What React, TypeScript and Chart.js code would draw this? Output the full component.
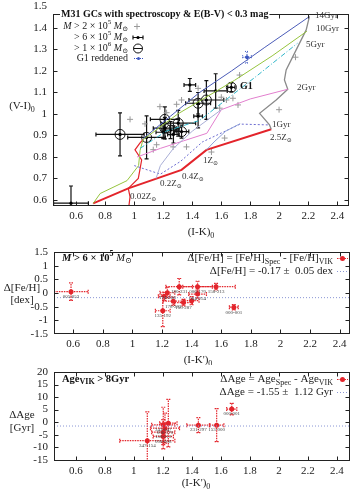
import React, { useEffect, useRef } from "react";
import { Chart, registerables } from "chart.js";
Chart.register(...registerables);

const FONT = "'Liberation Serif','Times New Roman','DejaVu Serif',serif";

// ---------------- shared ticks ----------------
const X_TICKS = [0.6, 0.8, 1, 1.2, 1.4, 1.6, 1.8, 2, 2.2, 2.4];
const P1_Y_TICKS = [0.6, 0.7, 0.8, 0.9, 1, 1.1, 1.2, 1.3, 1.4, 1.5];
const P2_Y_TICKS = [-1.5, -1, -0.5, 0, 0.5, 1, 1.5];
const P3_Y_TICKS = [-15, -10, -5, 0, 5, 10, 15, 20];

// ---------------- panel 1 : colour-colour ----------------
const gcAllX = [0.971, 1.074, 1.223, 1.292, 1.326, 1.44, 1.154, 1.131, 1.268, 1.36, 1.532, 1.623, 1.589, 1.6, 1.635, 1.68, 1.715, 1.726, 1.998, 2.111, 1.177];
const gcAllY = [0.975, 0.954, 1.006, 1.045, 1.065, 1.119, 0.857, 0.834, 0.847, 0.847, 0.823, 0.888, 1.027, 1.078, 1.065, 1.073, 1.042, 1.181, 1.02, 1.264, 1.034];

const gcMassX = [0.564, 0.902, 1.085, 1.211, 1.303, 1.211, 1.25, 1.326, 1.2, 1.27, 1.44, 1.497, 1.44, 1.383, 1.561, 1.669];
const gcMassY = [0.585, 0.905, 0.891, 0.975, 0.957, 0.934, 0.925, 0.918, 0.915, 0.905, 1.05, 1.065, 0.99, 1.135, 1.107, 1.124];
const gcMassXErr = [0.12, 0.166, 0.13, 0.1, 0.12, 0.08, 0.06, 0.05, 0.05, 0.04, 0.086, 0.12, 0.03, 0.04, 0.08, 0.025];
const gcMassYErr = [0.08, 0.1, 0.1, 0.058, 0.06, 0.05, 0.04, 0.03, 0.03, 0.04, 0.05, 0.09, 0.055, 0.03, 0.08, 0.02];
const gcVeryMassive = [false, true, true, true, true, true, true, true, false, false, true, true, false, false, false, true];

const g1RedX = [1.777];
const g1RedY = [1.264];
const g1RedXErr = [0.03];
const g1RedYErr = [0.027];

const iso14X = [1.06, 1.25, 1.45, 1.67, 1.9, 2.207];
const iso14Y = [0.885, 0.99, 1.1, 1.2, 1.31, 1.453];
const iso10X = [0.717, 0.765, 0.95, 1.03, 1.04, 1.06, 1.3, 1.69, 1.95, 2.19];
const iso10Y = [0.584, 0.63, 0.69, 0.76, 0.83, 0.88, 1.0, 1.156, 1.27, 1.385];
const iso5X = [1.04, 1.22, 1.45, 1.64, 1.85, 2.125];
const iso5Y = [0.84, 0.92, 0.97, 1.07, 1.18, 1.329];
const iso2X = [1.02, 1.18, 1.34, 1.5, 1.6, 1.8, 2.058];
const iso2Y = [0.8, 0.84, 0.875, 0.91, 1.02, 1.07, 1.115];
const iso1X = [1.0, 1.18, 1.32, 1.47, 1.73, 1.932];
const iso1Y = [0.76, 0.72, 0.78, 0.87, 0.953, 0.949];
const trackZ1X = [1.498, 1.55, 1.63, 1.73];
const trackZ1Y = [0.833, 0.87, 0.92, 0.955];
const trackZ02X = [1.15, 1.18, 1.27, 1.4, 1.6];
const trackZ02Y = [0.7, 0.76, 0.84, 0.92, 1.02];
const trackZ25X = [1.944, 1.932, 1.864, 1.978, 2.058, 2.035, 2.047, 2.116, 2.185, 2.207];
const trackZ25Y = [0.929, 0.949, 1.003, 1.065, 1.115, 1.158, 1.205, 1.298, 1.391, 1.453];
const youngX = [0.717, 0.959, 1.326, 1.498, 1.944];
const youngY = [0.584, 0.654, 0.74, 0.833, 0.929];
const trackZ002X = [0.959, 0.971, 0.959, 1.028, 1.051, 1.005, 1.04, 1.06];
const trackZ002Y = [0.55, 0.615, 0.654, 0.7, 0.786, 0.833, 0.866, 0.88];

// ---------------- panel 2 : delta [Fe/H] ----------------
const fehX = [0.585, 1.236, 1.215, 1.316, 1.44, 1.565, 1.44, 1.276, 1.345, 1.4, 1.205, 1.685];
const fehY = [0.05, 0.01, -0.12, 0.23, 0.23, 0.23, -0.04, -0.3, -0.35, -0.28, -0.65, -0.52];
const fehXErr = [0.116, 0.05, 0.04, 0.09, 0.1, 0.13, 0.06, 0.07, 0.06, 0.05, 0.05, 0.03];
const fehYErr = [0.32, 0.2, 0.15, 0.3, 0.2, 0.12, 0.15, 0.15, 0.12, 0.15, 0.58, 0.1];
const fehNames = ["005-052", "174-236", "", "180-231", "006-170", "158-213", "084-254", "178-283", "150-287", "", "135-192", "000-001"];
const fehMean = -0.17;

// ---------------- panel 3 : delta Age ----------------
const ageX = [1.093, 1.238, 1.203, 1.215, 1.203, 1.203, 1.445, 1.571, 1.675];
const ageY = [-7.4, -0.4, -1.07, -2.4, -4.0, -5.7, -1.2, -1.2, 5.2];
const ageXErr = [0.19, 0.06, 0.08, 0.1, 0.08, 0.07, 0.08, 0.05, 0.035];
const ageYErr = [11.5, 9.5, 7, 6, 5, 5, 3, 6.6, 2.3];
const ageNames = ["347-154", "", "343-047", "006-170", "158-213", "008-008", "231-297", "153-000", "000-001"];
const ageMean = -1.55;

// ---------------- helpers ----------------
type Seg = { t: string; sub?: boolean; sup?: boolean; b?: boolean; i?: boolean };

function rich(ctx: CanvasRenderingContext2D, segs: Seg[], x: number, y: number, size: number, align: string, color = "#222", bg = false) {
  const f = (s: Seg) => `${s.i ? "italic " : ""}${s.b ? "bold " : ""}${s.sub || s.sup ? Math.round(size * 0.72) : size}px ${FONT}`;
  let w = 0;
  for (const s of segs) { ctx.font = f(s); w += ctx.measureText(s.t).width; }
  let cx = align === "left" ? x : align === "right" ? x - w : x - w / 2;
  if (bg) {
    ctx.fillStyle = "#fff";
    ctx.fillRect(cx - 1, y - size * 0.75, w + 2, size * 1.5);
  }
  ctx.fillStyle = color;
  ctx.textAlign = "left";
  ctx.textBaseline = "middle";
  for (const s of segs) {
    ctx.font = f(s);
    const dy = s.sub ? size * 0.32 : s.sup ? -size * 0.38 : 0;
    ctx.fillText(s.t, cx, y + dy);
    cx += ctx.measureText(s.t).width;
  }
}

const fmt = (v: any) => String(Number(Number(v).toFixed(2)));
const pts = (xs: number[], ys: number[]) => xs.map((x, i) => ({ x, y: ys[i] }));

function frameAndTicks(chart: any, yTicks: number[]) {
  const { ctx, chartArea: a, scales } = chart;
  ctx.save();
  ctx.strokeStyle = "#222";
  ctx.lineWidth = 1;
  ctx.setLineDash([]);
  const L = Math.round(a.left) + 0.5, R = Math.round(a.right) - 0.5, T = Math.round(a.top) + 0.5, B = Math.round(a.bottom) - 0.5;
  ctx.strokeRect(L, T, R - L, B - T);
  ctx.beginPath();
  for (const v of X_TICKS) {
    const px = Math.round(scales.x.getPixelForValue(v)) + 0.5;
    if (px < a.left || px > a.right) continue;
    ctx.moveTo(px, B); ctx.lineTo(px, B - 4);
    ctx.moveTo(px, T); ctx.lineTo(px, T + 4);
  }
  for (const v of yTicks) {
    const py = Math.round(scales.y.getPixelForValue(v)) + 0.5;
    if (py < a.top || py > a.bottom) continue;
    ctx.moveTo(L, py); ctx.lineTo(L + 4, py);
    ctx.moveTo(R, py); ctx.lineTo(R - 4, py);
  }
  ctx.stroke();
  ctx.restore();
}

const errorBarPlugin = {
  id: "errorBars",
  beforeDatasetsDraw(chart: any) {
    const { ctx, chartArea: a } = chart;
    const xs = chart.scales.x, ys = chart.scales.y;
    ctx.save();
    ctx.beginPath();
    ctx.rect(a.left, a.top, a.right - a.left, a.bottom - a.top);
    ctx.clip();
    chart.data.datasets.forEach((ds: any) => {
      if (!ds.errX) return;
      ctx.strokeStyle = ds.errColor;
      ctx.lineWidth = ds.errWidth ?? 1;
      ctx.setLineDash(ds.errDash ?? []);
      const c = ds.errCap ?? 2;
      ds.data.forEach((p: any, i: number) => {
        const px = xs.getPixelForValue(p.x), py = ys.getPixelForValue(p.y);
        const x0 = xs.getPixelForValue(p.x - ds.errX[i]), x1 = xs.getPixelForValue(p.x + ds.errX[i]);
        const y0 = ys.getPixelForValue(p.y - ds.errY[i]), y1 = ys.getPixelForValue(p.y + ds.errY[i]);
        ctx.beginPath();
        ctx.moveTo(x0, py); ctx.lineTo(x1, py);
        ctx.moveTo(px, y0); ctx.lineTo(px, y1);
        ctx.moveTo(x0, py - c); ctx.lineTo(x0, py + c);
        ctx.moveTo(x1, py - c); ctx.lineTo(x1, py + c);
        ctx.moveTo(px - c, y0); ctx.lineTo(px + c, y0);
        ctx.moveTo(px - c, y1); ctx.lineTo(px + c, y1);
        ctx.stroke();
      });
    });
    ctx.restore();
  },
};

const nameLabelPlugin = {
  id: "nameLabels",
  afterDatasetsDraw(chart: any) {
    const { ctx } = chart;
    const xs = chart.scales.x, ys = chart.scales.y;
    chart.data.datasets.forEach((ds: any) => {
      if (!ds.names) return;
      ctx.save();
      ctx.font = `5px ${FONT}`;
      ctx.fillStyle = "#444";
      ctx.textAlign = "center";
      ctx.textBaseline = "middle";
      ds.data.forEach((p: any, i: number) => {
        const n = ds.names[i];
        if (!n) return;
        ctx.fillText(n, xs.getPixelForValue(p.x), ys.getPixelForValue(p.y) + 5);
      });
      ctx.restore();
    });
  },
};

function scalesFor(o: { xmin: number; xmax: number; ymin: number; ymax: number; yTicks: number[]; leftW: number; bottomH: number }) {
  const tickFont = { family: FONT, size: 11 };
  return {
    x: {
      type: "linear", min: o.xmin, max: o.xmax,
      afterBuildTicks: (s: any) => { s.ticks = X_TICKS.map((value) => ({ value })); },
      afterFit: (s: any) => { s.height = o.bottomH; s.paddingLeft = 0; s.paddingRight = 0; s.paddingTop = 0; s.paddingBottom = 0; },
      ticks: { autoSkip: false, maxRotation: 0, minRotation: 0, padding: 4, color: "#222", font: tickFont, callback: fmt },
      grid: { display: false, drawTicks: false },
      border: { display: false },
    },
    y: {
      type: "linear", min: o.ymin, max: o.ymax,
      afterBuildTicks: (s: any) => { s.ticks = o.yTicks.map((value) => ({ value })); },
      afterFit: (s: any) => { s.width = o.leftW; s.paddingTop = 0; s.paddingBottom = 0; s.paddingLeft = 0; s.paddingRight = 0; },
      ticks: { autoSkip: false, padding: 6, color: "#222", font: tickFont, callback: fmt },
      grid: { display: false, drawTicks: false },
      border: { display: false },
    },
  };
}

function lineDs(xs: number[], ys: number[], color: string, width = 1, dash: number[] = []) {
  return { data: pts(xs, ys), showLine: true, borderColor: color, borderWidth: width, borderDash: dash, pointRadius: 0, fill: false, tension: 0 };
}

const M_SUN: Seg[] = [{ t: "M", i: true }, { t: "\u2299", sub: true }];

// ---------------- panel configs ----------------
function config1(offTop: number) {
  const massPts = pts(gcMassX, gcMassY);
  const circPts = massPts.filter((_, i) => gcVeryMassive[i]);
  return {
    type: "scatter",
    data: {
      datasets: [
        lineDs(trackZ02X, trackZ02Y, "#a9aed6", 1),
        lineDs(trackZ1X, trackZ1Y, "#8fa0d8", 1),
        lineDs(iso1X, iso1Y, "#6c6cd0", 1, [2, 2]),
        lineDs(iso2X, iso2Y, "#e27fce", 1),
        lineDs(iso5X, iso5Y, "#2fb6c9", 1, [5, 2, 1, 2]),
        lineDs(iso10X, iso10Y, "#96c43e", 1),
        lineDs(iso14X, iso14Y, "#4b5cb8", 1),
        lineDs(trackZ25X, trackZ25Y, "#8a8a8a", 1.3),
        lineDs(trackZ002X, trackZ002Y, "#e3242b", 1.2),
        lineDs(youngX, youngY, "#e3242b", 2),
        { data: pts(gcAllX, gcAllY), pointStyle: "cross", pointRadius: 3, borderColor: "#9a9a9a", borderWidth: 1, showLine: false },
        { data: massPts, pointStyle: "circle", pointRadius: 1.6, backgroundColor: "#000", borderColor: "#000", borderWidth: 0, showLine: false,
          errX: gcMassXErr, errY: gcMassYErr, errColor: "#111", errWidth: 1.2, errCap: 2 },
        { data: circPts, pointStyle: "circle", pointRadius: 5, backgroundColor: "rgba(0,0,0,0)", borderColor: "#111", borderWidth: 1, showLine: false },
        { data: pts(g1RedX, g1RedY), pointStyle: "circle", pointRadius: 1.5, backgroundColor: "#3a55c0", borderColor: "#3a55c0", showLine: false,
          errX: g1RedXErr, errY: g1RedYErr, errColor: "#3a55c0", errWidth: 1, errDash: [1, 1], errCap: 2 },
      ],
    },
    options: {
      responsive: false, animation: false, events: [],
      layout: { padding: { top: 14, right: 5, left: 0, bottom: 0 } },
      plugins: { legend: { display: false }, tooltip: { enabled: false } },
      scales: scalesFor({ xmin: 0.44, xmax: 2.48, ymin: 0.572, ymax: 1.465, yTicks: P1_Y_TICKS, leftW: 53, bottomH: 34 }),
    },
    plugins: [errorBarPlugin, {
      id: "deco1",
      afterDraw(chart: any) {
        const ctx = chart.ctx;
        frameAndTicks(chart, P1_Y_TICKS);
        ctx.save();
        ctx.translate(0, -offTop);
        rich(ctx, [{ t: "M31 GCs with spectroscopy & E(B-V) < 0.3 mag", b: true }], 61, 14, 10, "left", "#111", true);
        rich(ctx, [{ t: "M", i: true }, { t: " > 2 \u00d7 10" }, { t: "5", sup: true }, { t: " " }, ...M_SUN], 128, 26, 10, "right");
        rich(ctx, [{ t: "> 6 \u00d7 10" }, { t: "5", sup: true }, { t: " " }, ...M_SUN], 128, 37, 10, "right");
        rich(ctx, [{ t: "> 1 \u00d7 10" }, { t: "6", sup: true }, { t: " " }, ...M_SUN], 128, 48, 10, "right");
        rich(ctx, [{ t: "G1 reddened" }], 128, 58, 10, "right");
        // key samples
        ctx.lineWidth = 1;
        ctx.strokeStyle = "#9a9a9a";
        ctx.beginPath(); ctx.moveTo(134, 26.5); ctx.lineTo(140, 26.5); ctx.moveTo(137, 23.5); ctx.lineTo(137, 29.5); ctx.stroke();
        ctx.strokeStyle = "#111"; ctx.lineWidth = 1.2;
        ctx.beginPath(); ctx.moveTo(133, 37.5); ctx.lineTo(143, 37.5); ctx.moveTo(133, 35.5); ctx.lineTo(133, 39.5); ctx.moveTo(143, 35.5); ctx.lineTo(143, 39.5); ctx.stroke();
        ctx.fillStyle = "#000"; ctx.beginPath(); ctx.arc(138, 37.5, 1.6, 0, Math.PI * 2); ctx.fill();
        ctx.lineWidth = 1;
        ctx.beginPath(); ctx.arc(138, 48.5, 4.5, 0, Math.PI * 2); ctx.moveTo(133.5, 48.5); ctx.lineTo(142.5, 48.5); ctx.stroke();
        ctx.strokeStyle = "#3a55c0"; ctx.setLineDash([1, 1]);
        ctx.beginPath(); ctx.moveTo(134, 58.5); ctx.lineTo(143, 58.5); ctx.stroke();
        ctx.setLineDash([]);
        ctx.fillStyle = "#3a55c0"; ctx.beginPath(); ctx.arc(138.5, 58.5, 1.5, 0, Math.PI * 2); ctx.fill();
        // model labels
        const lab = (t: string, x: number, y: number, z = false) =>
          rich(ctx, z ? [{ t }, { t: "Z" }, { t: "\u2299", sub: true }] : [{ t }], x, y, 9, "left", "#333");
        lab("14Gyr", 315, 16); lab("10Gyr", 316, 29); lab("5Gyr", 306, 45); lab("2Gyr", 297, 88); lab("1Gyr", 272, 125);
        lab("2.5", 270, 138, true); lab("1", 203, 161, true); lab("0.4", 182, 177, true); lab("0.2", 160, 184, true); lab("0.02", 130, 197, true);
        rich(ctx, [{ t: "G1", b: true }], 240, 86, 10, "left", "#111");
        // axis titles
        rich(ctx, [{ t: "(V-I)" }, { t: "0", sub: true }], 22, 106, 11, "center");
        rich(ctx, [{ t: "(I-K)" }, { t: "0", sub: true }], 201, 232, 11, "center");
        ctx.restore();
      },
    }],
  };
}

function deltaConfig(kind: "feh" | "age", offTop: number) {
  const isFeh = kind === "feh";
  const X = isFeh ? fehX : ageX, Y = isFeh ? fehY : ageY;
  const XE = isFeh ? fehXErr : ageXErr, YE = isFeh ? fehYErr : ageYErr;
  const names = isFeh ? fehNames : ageNames;
  const mean = isFeh ? fehMean : ageMean;
  const xmin = isFeh ? 0.47 : 0.45, xmax = isFeh ? 2.47 : 2.49;
  const yTicks = isFeh ? P2_Y_TICKS : P3_Y_TICKS;
  return {
    type: "scatter",
    data: {
      datasets: [
        lineDs([xmin, xmax], [mean, mean], "#8a96d4", 1, [1, 2]),
        { data: pts(X, Y), pointStyle: "circle", pointRadius: 2.5, backgroundColor: "#e3242b", borderColor: "#e3242b", borderWidth: 0, showLine: false,
          errX: XE, errY: YE, errColor: "#e3242b", errWidth: 1.2, errDash: [1.5, 1], errCap: 2, names },
      ],
    },
    options: {
      responsive: false, animation: false, events: [],
      layout: { padding: { top: isFeh ? 12 : 7, right: 5, left: 0, bottom: 0 } },
      plugins: { legend: { display: false }, tooltip: { enabled: false } },
      scales: scalesFor({
        xmin, xmax,
        ymin: isFeh ? -1.5 : -15.5, ymax: isFeh ? 1.5 : 20,
        yTicks, leftW: 54, bottomH: isFeh ? 31 : 30,
      }),
    },
    plugins: [errorBarPlugin, nameLabelPlugin, {
      id: "deco" + kind,
      afterDraw(chart: any) {
        const ctx = chart.ctx;
        frameAndTicks(chart, yTicks);
        ctx.save();
        ctx.translate(0, -offTop);
        const y1 = isFeh ? 258 : 379, y2 = isFeh ? 271 : 392;
        if (isFeh) {
          rich(ctx, [{ t: "M", i: true, b: true }, { t: " > 6 \u00d7 10", b: true }, { t: "5", sup: true, b: true }, { t: " " }, ...M_SUN], 62, 258, 10.5, "left", "#111");
          rich(ctx, [{ t: "\u0394[Fe/H] = [Fe/H]" }, { t: "Spec", sub: true }, { t: " - [Fe/H]" }, { t: "VIK", sub: true }], 333, y1, 11, "right");
          rich(ctx, [{ t: "\u0394[Fe/H] = -0.17 \u00b1  0.05 dex" }], 333, y2, 11, "right");
          rich(ctx, [{ t: "\u0394[Fe/H]" }], 22, 288, 11, "center");
          rich(ctx, [{ t: "[dex]" }], 22, 300, 11, "center");
          rich(ctx, [{ t: "(I-K')" }, { t: "0", sub: true }], 198, 360, 11, "center");
        } else {
          rich(ctx, [{ t: "Age", b: true }, { t: "VIK", sub: true, b: true }, { t: " > 8Gyr", b: true }], 62, 379, 10.5, "left", "#111");
          rich(ctx, [{ t: "\u0394Age = Age" }, { t: "Spec", sub: true }, { t: " - Age" }, { t: "VIK", sub: true }], 333, y1, 11, "right");
          rich(ctx, [{ t: "\u0394Age = -1.55 \u00b1  1.12 Gyr" }], 333, y2, 11, "right");
          rich(ctx, [{ t: "\u0394Age" }], 22, 415, 11, "center");
          rich(ctx, [{ t: "[Gyr]" }], 22, 428, 11, "center");
          rich(ctx, [{ t: "(I-K')" }, { t: "0", sub: true }], 196, 483, 11, "center");
        }
        // key samples
        ctx.strokeStyle = "#e3242b"; ctx.lineWidth = 1.2; ctx.setLineDash([1.5, 1]);
        ctx.beginPath(); ctx.moveTo(337, y1 + 0.5); ctx.lineTo(348, y1 + 0.5); ctx.stroke();
        ctx.setLineDash([]);
        ctx.fillStyle = "#e3242b"; ctx.beginPath(); ctx.arc(342.5, y1 + 0.5, 2.5, 0, Math.PI * 2); ctx.fill();
        ctx.strokeStyle = "#8a96d4"; ctx.lineWidth = 1; ctx.setLineDash([1, 2]);
        ctx.beginPath(); ctx.moveTo(337, y2 + 0.5); ctx.lineTo(349, y2 + 0.5); ctx.stroke();
        ctx.restore();
      },
    }],
  };
}

function Panel({ top, height, make }: { top: number; height: number; make: (off: number) => any }) {
  const ref = useRef<HTMLCanvasElement>(null);
  useEffect(() => {
    const chart = new Chart(ref.current as HTMLCanvasElement, make(top));
    return () => chart.destroy();
  }, []);
  return <canvas ref={ref} width={355} height={height} style={{ position: "absolute", left: 0, top, width: 355, height, display: "block" }} />;
}

export default function App() {
  return (
    <div style={{ position: "absolute", left: 0, top: 0, width: 355, height: 491, background: "#fff", overflow: "hidden" }}>
      <Panel top={0} height={240} make={(o) => config1(o)} />
      <Panel top={240} height={125} make={(o) => deltaConfig("feh", o)} />
      <Panel top={365} height={126} make={(o) => deltaConfig("age", o)} />
    </div>
  );
}
